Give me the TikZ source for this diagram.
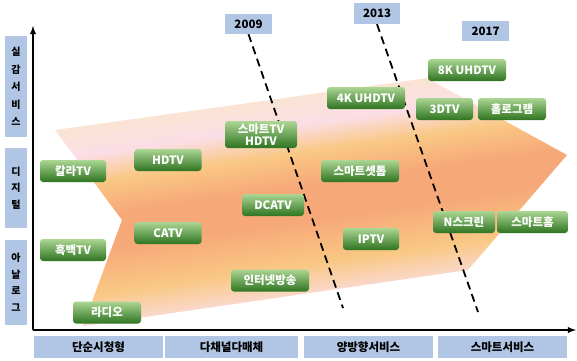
\documentclass[tikz,border=0pt]{standalone}
\usepackage{fontspec}
\setmainfont{Noto Sans CJK KR}
\usetikzlibrary{calc, shapes, backgrounds}

\definecolor{labblue}{RGB}{176,198,228}
\definecolor{gtop}{RGB}{172,214,148}
\definecolor{gbot}{RGB}{46,116,32}
\definecolor{fanpale}{RGB}{252,234,240}
\definecolor{fanpink}{RGB}{251,222,230}
\definecolor{fanyel}{RGB}{249,200,132}
\definecolor{fanorg}{RGB}{247,168,120}
\definecolor{fantop}{RGB}{250,230,204}

\pgfdeclareverticalshading{fanband}{100bp}{%
	color(0bp)=(fanpale); color(25bp)=(fanpale); color(32bp)=(fanpink);
	color(39bp)=(fanyel); color(47bp)=(fanorg); color(53bp)=(fanorg);
	color(59bp)=(fanyel); color(64bp)=(fanpink); color(71bp)=(fantop);
	color(75bp)=(fantop); color(100bp)=(fantop)}

\begin{document}
\begin{tikzpicture}[x=1pt, y=-1pt,
	tvbox/.style={rounded corners=3pt, top color=gtop, bottom color=gbot,
		text=white, font=\bfseries\fontsize{11.5}{13}\selectfont,
		minimum height=22pt, inner sep=1pt, align=center},
	labbox/.style={fill=labblue, font=\bfseries\fontsize{11.5}{13}\selectfont,
		inner sep=1pt, align=center},
	sidebox/.style={labbox, minimum width=22pt,
		font=\bfseries\fontsize{10}{16.5}\selectfont},
	yearline/.style={line width=1.8pt, dash pattern=on 8pt off 5pt},
	axisline/.style={line width=1.8pt, -latex}]
	\useasboundingbox (0,0) rectangle (577,360);

	% the band behind the services
	\shade[shading=fanband, shading angle=8]
		(55,130) -- (427,78) -- (567,155) -- (468,270) -- (83,326) -- (122,220) -- cycle;

	% axes
	\coordinate (o) at (33,330);
	\coordinate (ytop) at (33,26);
	\coordinate (xend) at (576,330);
	\draw[axisline] (o) -- (ytop);
	\draw[axisline] (o) -- (xend);

	% side labels
	\node[sidebox, minimum height=101pt, font=\bfseries\fontsize{10}{17.5}\selectfont] (real) at (16,86.5) {실\\감\\서\\비\\스};
	\node[sidebox, minimum height=80pt] (digit) at (16,188) {디\\지\\털};
	\node[sidebox, minimum height=85pt] (analog) at (16,282.5) {아\\날\\로\\그};

	% bottom labels
	\node[labbox, minimum width=129pt, minimum height=22pt] (simple) at (98.5,347) {단순시청형};
	\node[labbox, minimum width=133pt, minimum height=22pt] (multi) at (231.5,347) {다채널다매체};
	\node[labbox, minimum width=129pt, minimum height=22pt] (twoway) at (368.5,347) {양방향서비스};
	\node[labbox, minimum width=129pt, minimum height=22pt] (smart) at (502.5,347) {스마트서비스};

	% years
	\node[labbox, minimum width=47pt, minimum height=20pt] (y2009) at (248.5,24) {2009};
	\node[labbox, minimum width=46pt, minimum height=21pt] (y2013) at (377,13.5) {2013};
	\node[labbox, minimum width=47pt, minimum height=20pt] (y2017) at (485.5,31) {2017};
	\coordinate (e2009) at (343,308);
	\coordinate (e2013) at (478,312);
	\draw[yearline] (y2009.south) -- (e2009);
	\draw[yearline] (y2013.south) -- (e2013);

	% services
	\node[tvbox, minimum width=66pt] (color) at (73,171) {칼라TV};
	\node[tvbox, minimum width=66pt] (mono) at (73,250) {흑백TV};
	\node[tvbox, minimum width=68pt] (radio) at (107,312.5) {라디오};
	\node[tvbox, minimum width=67pt] (hdtv) at (168,160) {HDTV};
	\node[tvbox, minimum width=67pt] (catv) at (168,233) {CATV};
	\node[tvbox, minimum width=72pt, minimum height=27pt,
		font=\bfseries\fontsize{11.5}{12.5}\selectfont] (smarttv) at (261,134.5) {스마트TV\\HDTV};
	\node[tvbox, minimum width=62pt] (dcatv) at (273,205) {DCATV};
	\node[tvbox, minimum width=78pt] (inet) at (270,280.5) {인터넷방송};
	\node[tvbox, minimum width=78pt] (uhd4k) at (366,98) {4K UHDTV};
	\node[tvbox, minimum width=78pt] (settop) at (360,171) {스마트셋톱};
	\node[tvbox, minimum width=56pt] (iptv) at (371,239) {IPTV};
	\node[tvbox, minimum width=78pt] (uhd8k) at (467,70) {8K UHDTV};
	\node[tvbox, minimum width=57pt] (threed) at (444.5,109) {3DTV};
	\node[tvbox, minimum width=68pt] (holo) at (512,109) {홀로그램};
	\node[tvbox, minimum width=62pt] (nscreen) at (464,222) {N스크린};
	\node[tvbox, minimum width=71pt] (home) at (532.5,222) {스마트홈};

\end{tikzpicture}
\end{document}
